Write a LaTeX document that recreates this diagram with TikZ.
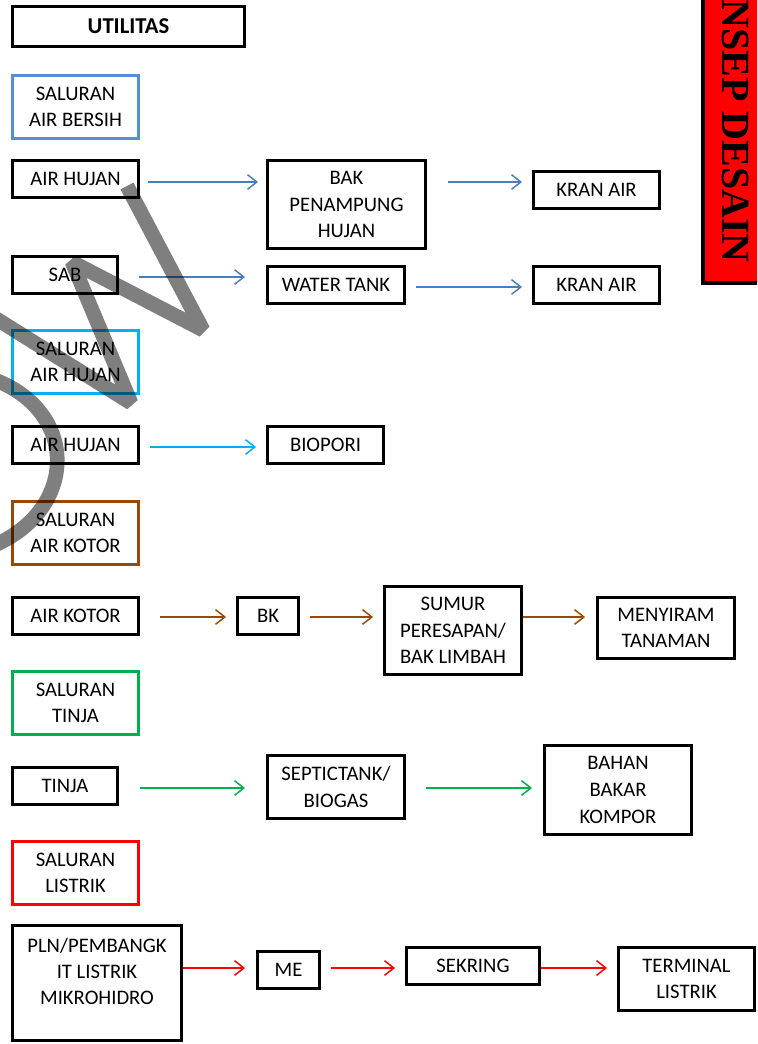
\documentclass[tikz,border=0pt]{standalone}
\usepackage{fontspec}
\setmainfont{Carlito}
\newfontfamily\serifb{Liberation Serif}
\usetikzlibrary{arrows.meta,calc}
\definecolor{cblue}{HTML}{558ED5}
\definecolor{cablue}{HTML}{4A7EBB}
\definecolor{ccyan}{HTML}{00B0F0}
\definecolor{cbrown}{HTML}{984807}
\definecolor{cgreen}{HTML}{00B050}
\definecolor{cred}{HTML}{FF0000}
\tikzset{
  box/.style={draw=black, line width=2.2pt, fill=white, align=center, inner sep=0pt,
    font=\fontsize{15.5}{20}\selectfont},
  sz/.style 2 args={minimum width={(#1-3)*0.75pt}, minimum height={(#2-3)*0.75pt}},
  arr/.style={-{Straight Barb[length=7pt,width=11pt]}, line width=1.1pt},
  wm/.style={draw=black, draw opacity=0.5, line width=11pt, line join=bevel},
}
\begin{document}
\begin{tikzpicture}[x=0.75pt,y=-0.75pt]
\path[use as bounding box] (0,0) rectangle (757,1044);
\clip (0,0) rectangle (757,1044);
\fill[white] (0,0) rectangle (757,1044);

% red title tab
\draw[fill=cred, line width=2.4pt] (703,-10) rectangle (770,283);
\node[rotate=-90, anchor=base, inner sep=0pt, font=\serifb\bfseries\fontsize{30}{30}\selectfont] (tab) at (722,131) {NSEP DESAIN};

% header
\node[box, sz={235}{43}, font=\bfseries\fontsize{17}{20}\selectfont] (util) at (128.5,26.5) {UTILITAS};

% air bersih
\node[box, draw=cblue, sz={129}{66}] (sab0) at (75.5,107) {SALURAN\\AIR BERSIH};
\node[box, sz={129}{40}] (ah1) at (75.5,179) {AIR HUJAN};
\node[box, sz={161}{91}] (bak) at (346.5,204.5) {BAK\\PENAMPUNG\\HUJAN};
\node[box, sz={129}{40}] (kran1) at (596.5,190) {KRAN AIR};
\node[box, sz={108}{40}] (sab) at (65,275) {SAB};
\node[box, sz={140}{40}] (wt) at (336,285) {WATER TANK};
\node[box, sz={129}{40}] (kran2) at (596.5,285) {KRAN AIR};

\draw[arr, cablue] ($(ah1.east)+(8,3)$) -- ($(bak.west)+(-8,-22.5)$);
\draw[arr, cablue] ($(bak.east)+(21,-22.5)$) -- ($(kran1.west)+(-10,-8)$);
\draw[arr, cablue] ($(sab.east)+(20,2)$) -- ($(wt.west)+(-21,-8)$);
\draw[arr, cablue] ($(wt.east)+(10,2)$) -- ($(kran2.west)+(-10,2)$);

% air hujan
\node[box, draw=ccyan, sz={129}{66}] (sah) at (75.5,362) {SALURAN\\AIR HUJAN};
\node[box, sz={129}{40}] (ah2) at (75.5,445) {AIR HUJAN};
\node[box, sz={119}{40}] (bio) at (325.5,445) {BIOPORI};
\draw[arr, ccyan] ($(ah2.east)+(10,2)$) -- ($(bio.west)+(-10,2)$);

% air kotor
\node[box, draw=cbrown, sz={129}{66}] (sak) at (75.5,533) {SALURAN\\AIR KOTOR};
\node[box, sz={129}{40}] (ak) at (75.5,616) {AIR KOTOR};
\node[box, sz={64}{40}] (bk) at (268,616) {BK};
\node[box, sz={140}{91}] (sumur) at (453,630.5) {SUMUR\\PERESAPAN/\\BAK LIMBAH};
\node[box, sz={140}{64}] (meny) at (666,628) {MENYIRAM\\TANAMAN};
\draw[arr, cbrown] ($(ak.east)+(20,1)$) -- ($(bk.west)+(-10,1)$);
\draw[arr, cbrown] ($(bk.east)+(10,1)$) -- ($(sumur.west)+(-10,-13.5)$);
\draw[arr, cbrown] ($(sumur.east)+(0,-13.5)$) -- ($(meny.west)+(-11,-11)$);

% tinja
\node[box, draw=cgreen, sz={129}{66}] (st) at (75.5,703) {SALURAN\\TINJA};
\node[box, sz={108}{40}] (tinja) at (65,786) {TINJA};
\node[box, sz={140}{66}] (sep) at (336,787) {SEPTICTANK/\\BIOGAS};
\node[box, sz={150}{92}] (bahan) at (618,790) {BAHAN\\BAKAR\\KOMPOR};
\draw[arr, cgreen] ($(tinja.east)+(21,2)$) -- ($(sep.west)+(-21,1)$);
\draw[arr, cgreen] ($(sep.east)+(20,1)$) -- ($(bahan.west)+(-11,-2)$);

% listrik
\node[box, draw=cred, sz={129}{66}] (sl) at (75.5,873) {SALURAN\\LISTRIK};
\node[box, sz={172}{118}] (pln) at (97,983) {};
\node[align=center, inner sep=0pt, font=\fontsize{15.5}{19.5}\selectfont] (plnt) at (97,971) {PLN/PEMBANGK\\IT LISTRIK\\MIKROHIDRO};
\node[box, sz={65}{40}] (me) at (288.5,970) {ME};
\node[box, sz={136}{40}] (sek) at (473,966) {SEKRING};
\node[box, sz={139}{66}] (term) at (686.5,979) {TERMINAL\\LISTRIK};
\draw[arr, cred] ($(pln.east)+(0,-15)$) -- ($(me.west)+(-11,-2)$);
\draw[arr, cred] ($(me.east)+(10,-2)$) -- ($(sek.west)+(-10,2)$);
\draw[arr, cred] ($(sek.east)+(0,2)$) -- ($(term.west)+(-10,-11)$);

% watermark strokes
\draw[wm] (127,186) -- (203,330) -- (72,262) -- (131,403) -- (-5,318);
\draw[wm] (-5,380) .. controls (78,412) and (78,508) .. (-5,545);
\end{tikzpicture}
\end{document}
